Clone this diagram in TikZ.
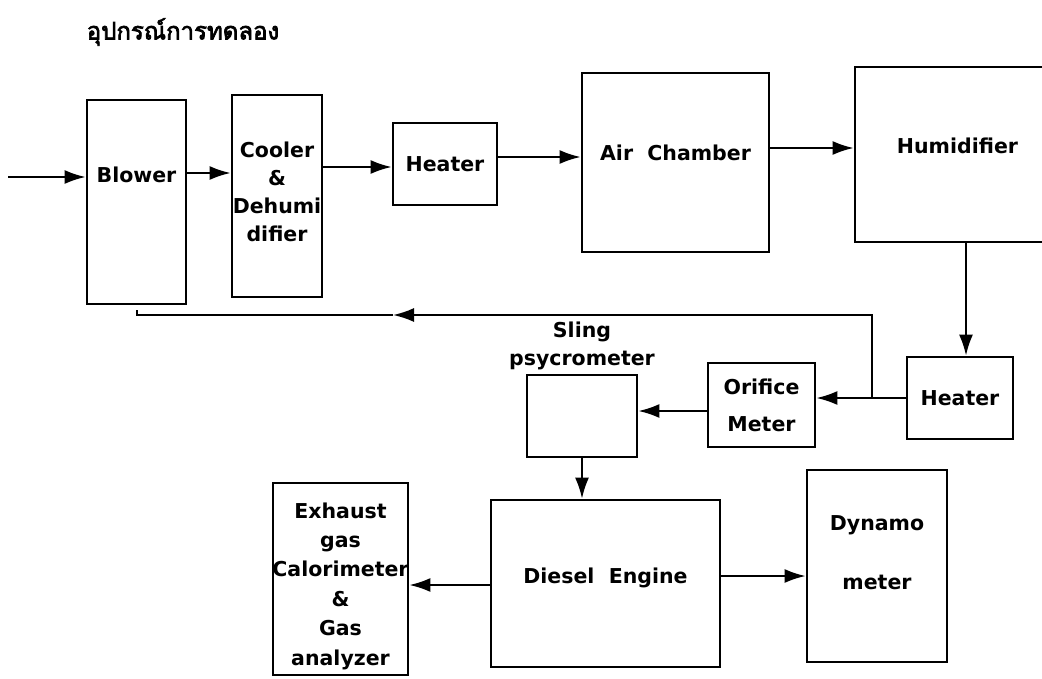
\documentclass[tikz,border=0pt]{standalone}
\usepackage{fontspec}
\setmainfont{DejaVu Sans}
\newfontfamily\thaifont[Script=Thai, AutoFakeBold=3]{Loma}
\usetikzlibrary{arrows.meta, positioning}

\tikzset{
  unit/.style={draw, rectangle, line width=2.8pt, inner sep=0pt},
  txt/.style={font=\bfseries\fontsize{20.5}{28}\selectfont, align=center},
  flow/.style={line width=2pt, -{Latex[length=21pt,width=14pt]}},
  pipe/.style={line width=2pt},
}

\begin{document}
\begin{tikzpicture}[x=1pt, y=-1pt]
        \useasboundingbox (0,0) rectangle (1042,678);

        \node[font=\thaifont\bfseries\fontsize{24}{28}\selectfont] (title) at (183,32) {อุปกรณ์การทดลอง};

        % top row
        \node[unit, minimum width=99pt, minimum height=204pt,
              label={[txt, yshift=27pt]center:Blower}] (blower) at (136.5,202) {};
        \node[unit, minimum width=90pt, minimum height=202pt,
              label={[txt, yshift=4.5pt]center:{Cooler\\\&\\Dehumi\\difier}}] (cooler) at (277,196) {};
        \node[unit, minimum width=104pt, minimum height=82pt,
              label={[txt]center:Heater}] (heat1) at (445,164) {};
        \node[unit, minimum width=187pt, minimum height=179pt,
              label={[txt, yshift=9.5pt]center:{Air~ Chamber}}] (chamber) at (675.5,162.5) {};
        \node[unit, minimum width=205pt, minimum height=175pt,
              label={[txt, yshift=8.5pt]center:Humidifier}] (humid) at (957.5,154.5) {};

        % middle row
        \node[unit, minimum width=106pt, minimum height=82pt,
              label={[txt]center:Heater}] (heat2) at (960,398) {};
        \node[unit, minimum width=107pt, minimum height=84pt,
              label={[txt]center:{Orifice\\[9pt]Meter}}] (orifice) at (761.5,405) {};
        \node[unit, minimum width=110pt, minimum height=82pt] (sling) at (582,416) {};
        \node[txt] (slinglbl) [above=0pt of sling] {Sling\\psycrometer};

        % bottom row
        \node[unit, minimum width=229pt, minimum height=167pt,
              label={[txt, yshift=5.5pt]center:{Diesel~ Engine}}] (engine) at (605.5,583.5) {};
        \node[unit, minimum width=135pt, minimum height=192pt,
              label={[txt, yshift=-7pt, font=\bfseries\fontsize{20.5}{29.4}\selectfont]center:{Exhaust\\gas\\Calorimeter\\\&\\Gas\\analyzer}}] (exhaust) at (340.5,579) {};
        \node[unit, minimum width=140pt, minimum height=192pt,
              label={[txt, yshift=13.5pt]center:{Dynamo\\[31pt]meter}}] (dynamo) at (877,566) {};

        \coordinate (src) at (8,177);
        \coordinate (jn) at (872,398);
        \coordinate (back) at (393,315);

        \draw[flow] (src) -- (src -| blower.west);
        \draw[flow] (blower.east |- 0,173) -- (cooler.west |- 0,173);
        \draw[flow] (cooler.east |- 0,167) -- (heat1.west |- 0,167);
        \draw[flow] (heat1.east |- 0,157) -- (chamber.west |- 0,157);
        \draw[flow] (chamber.east |- 0,148) -- (humid.west |- 0,148);
        \draw[flow] (humid.south -| 966,0) -- (heat2.north -| 966,0);
        \draw[flow] (heat2.west) -- (heat2.west -| orifice.east);
        \draw[flow] (orifice.west |- 0,411) -- (sling.east |- 0,411);
        \draw[flow] (sling.south) -- (sling.south |- engine.north);
        \draw[flow] (engine.west |- 0,585) -- (exhaust.east |- 0,585);
        \draw[flow] (engine.east |- 0,576) -- (dynamo.west |- 0,576);

        % return line
        \draw[flow] (jn) |- (back);
        \draw[pipe] (back) -| ([yshift=-5pt]blower.south);
\end{tikzpicture}
\end{document}
